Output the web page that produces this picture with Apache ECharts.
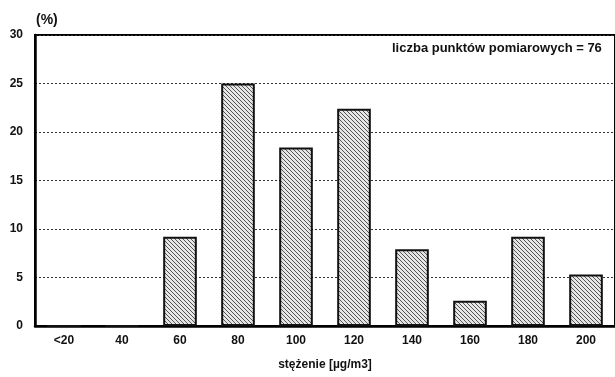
<!DOCTYPE html>
<html><head><meta charset="utf-8">
<script src="https://cdn.jsdelivr.net/npm/echarts@6/dist/echarts.min.js"></script>
<style>html,body{margin:0;padding:0;background:#fff}#c{width:615px;height:377px}</style>
</head><body><div id="c"></div>
<script>
const categories = ['<20','40','60','80','100','120','140','160','180','200'];
const values = [0, 0, 9.2, 25.0, 18.4, 22.4, 7.9, 2.6, 9.2, 5.3];
const yTicks = [0, 5, 10, 15, 20, 25, 30];
const annotation = 'liczba punktów pomiarowych = 76';
const xName = 'stężenie [µg/m3]';
const yName = '(%)';

function hatch() {
  const s = 4;
  const c = document.createElement('canvas');
  c.width = s; c.height = s;
  const g = c.getContext('2d');
  g.fillStyle = '#e6e6e6';
  g.fillRect(0, 0, s, s);
  g.strokeStyle = '#555';
  g.lineWidth = 1;
  g.beginPath();
  g.moveTo(-1, -1); g.lineTo(s + 1, s + 1);
  g.moveTo(-1, s - 1); g.lineTo(1, s + 1);
  g.moveTo(s - 1, -1); g.lineTo(s + 1, 1);
  g.stroke();
  return c;
}

const chart = echarts.init(document.getElementById('c'), null, {renderer: 'canvas'});
const font = 'Liberation Sans, Arial, sans-serif';
chart.setOption({
  animation: false,
  grid: {left: 35, top: 35, right: -6, bottom: 51, show: true, borderColor: '#000', borderWidth: 2, backgroundColor: 'transparent'},
  graphic: [
    {type: 'text', left: 392, top: 42, style: {text: annotation, font: 'bold 13px ' + font, fill: '#111'}},
    {type: 'text', left: 36, top: 13, style: {text: yName, font: 'bold 14px ' + font, fill: '#111'}}
  ],
  xAxis: {
    type: 'category', data: categories,
    name: xName, nameLocation: 'middle', nameGap: 33,
    nameTextStyle: {fontFamily: font, fontWeight: 'bold', fontSize: 12, color: '#111'},
    axisLine: {lineStyle: {color: '#000', width: 2.5}},
    axisTick: {show: false},
    axisLabel: {fontFamily: font, fontWeight: 'bold', fontSize: 12, color: '#111', margin: 9}
  },
  yAxis: {
    type: 'value', min: yTicks[0], max: yTicks[yTicks.length - 1], interval: 5,
    axisLine: {show: true, lineStyle: {color: '#000', width: 2.5}},
    axisTick: {show: false},
    axisLabel: {fontFamily: font, fontWeight: 'bold', fontSize: 12, color: '#111', margin: 12},
    splitLine: {show: true, lineStyle: {color: '#333', type: [2, 2], width: 1}}
  },
  series: [{
    type: 'bar', data: values, barWidth: '58%',
    itemStyle: {color: {image: hatch(), repeat: 'repeat'}, borderColor: '#111', borderWidth: 2}
  }]
});
</script></body></html>
